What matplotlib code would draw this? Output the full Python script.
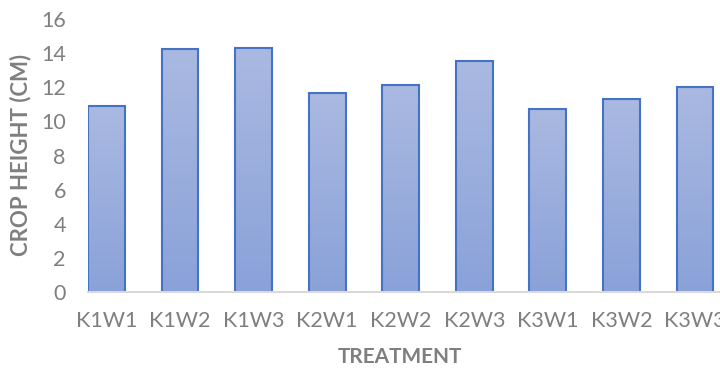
import numpy as np
import matplotlib
matplotlib.use("Agg")
import matplotlib.pyplot as plt
from matplotlib.colors import LinearSegmentedColormap

treatments = ["K1W1", "K1W2", "K1W3", "K2W1", "K2W2", "K2W3", "K3W1", "K3W2", "K3W3"]
crop_height = [10.9, 14.23, 14.32, 11.65, 12.15, 13.52, 10.71, 11.3, 12.0]
y_ticks = [0, 2, 4, 6, 8, 10, 12, 14, 16]

plt.rcParams["font.family"] = ["Lato", "DejaVu Sans"]
text_gray = "#7f7f7f"

fig = plt.figure(figsize=(7.2, 3.71), dpi=100)
W, H = 720, 371
left_px, right_px = 88, 720
bottom_px, top_px = 292, 19
ax = fig.add_axes([left_px / W, 1 - bottom_px / H,
                   (right_px - left_px) / W, (bottom_px - top_px) / H])

x = np.arange(len(treatments))
bars = ax.bar(x, crop_height, width=0.5, facecolor="none",
              edgecolor="#4472C4", linewidth=1.5, zorder=3)

# vertical gradient fill inside each bar
grad_cmap = LinearSegmentedColormap.from_list("barfill", ["#8AA2D9", "#AAB9E1"])
grad = np.linspace(0, 1, 256).reshape(-1, 1)
for b in bars:
    x0, y0 = b.get_x(), b.get_y()
    w, h = b.get_width(), b.get_height()
    im = ax.imshow(grad, cmap=grad_cmap, origin="lower", aspect="auto",
                   extent=[x0, x0 + w, y0, y0 + h], zorder=2,
                   interpolation="bilinear")
    im.set_clip_path(b)

ax.set_xlim(-0.25, 8.34)
ax.set_ylim(0, 16)
ax.set_yticks(y_ticks)
ax.set_xticks(x)
ax.set_xticklabels(treatments)

for s in ["top", "right", "left"]:
    ax.spines[s].set_visible(False)
ax.spines["bottom"].set_color("#d9d9d9")
ax.spines["bottom"].set_linewidth(1.5)
ax.spines["bottom"].set_zorder(4)

ax.tick_params(axis="both", length=0, labelsize=15.5, labelcolor=text_gray)
ax.tick_params(axis="y", pad=16)
ax.tick_params(axis="x", pad=14)

fig.text(400 / W, 1 - 357 / H, "TREATMENT", ha="center", va="center",
         fontsize=15, fontweight="bold", color=text_gray)
fig.text(21 / W, 1 - 155 / H, "CROP HEIGHT (CM)", ha="center", va="center",
         rotation=90, fontsize=16, fontweight="bold", color=text_gray)

fig.savefig("out.png", dpi=100)
